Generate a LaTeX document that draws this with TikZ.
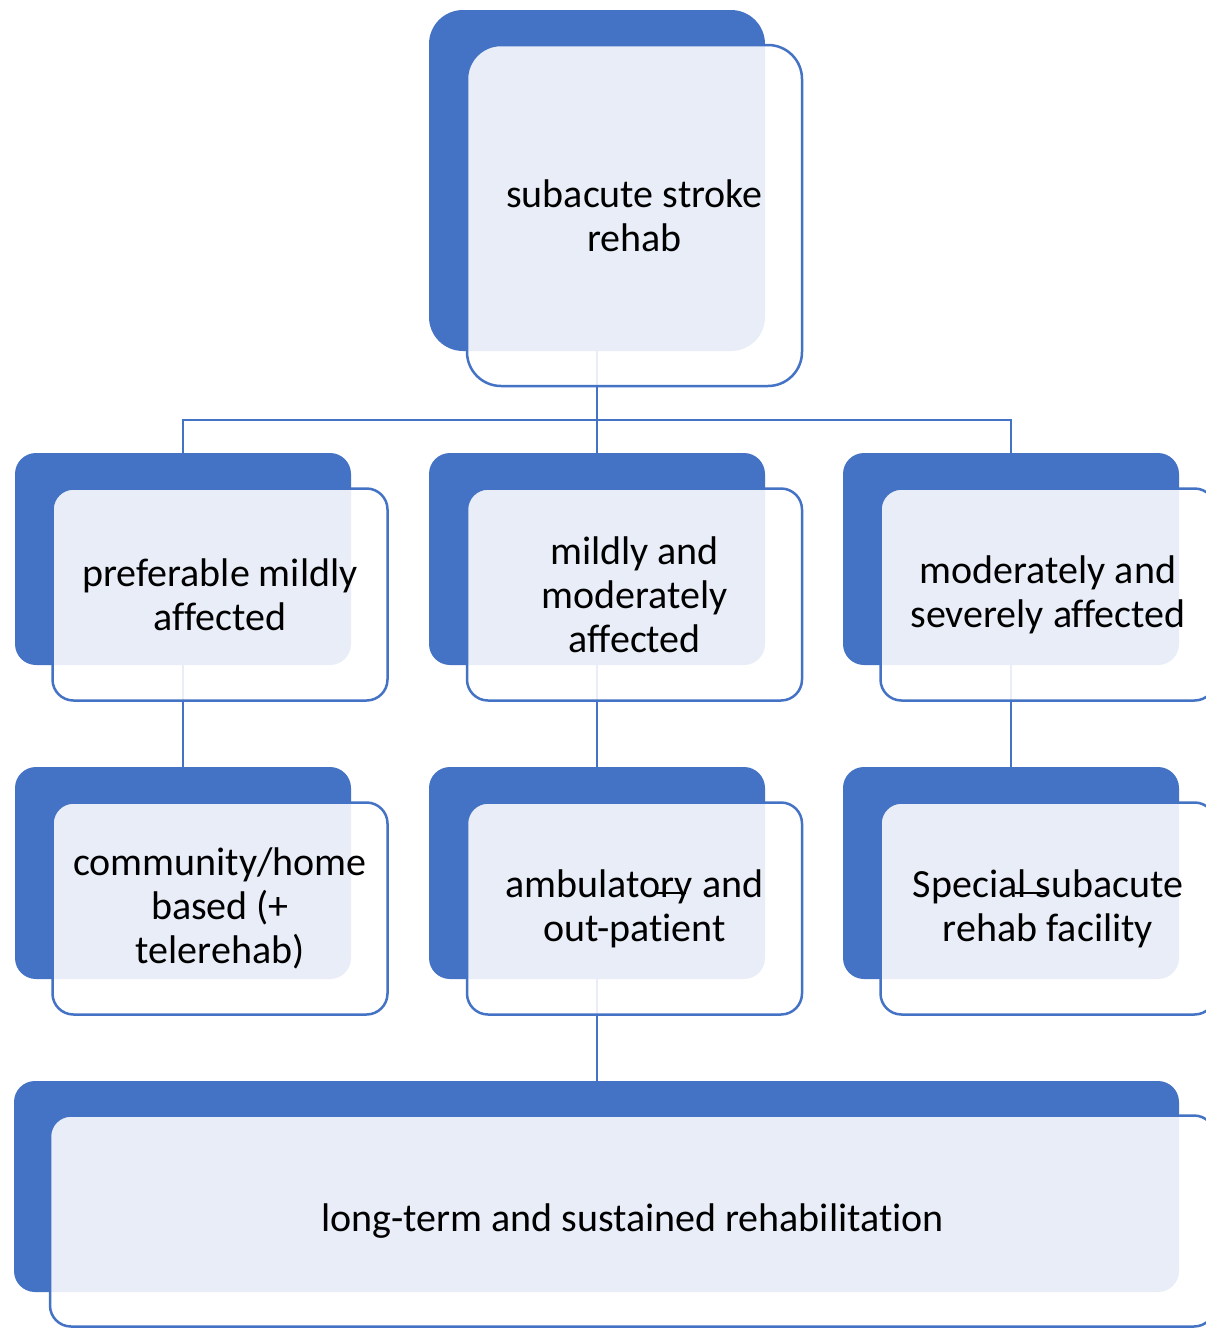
\documentclass[tikz,border=0pt]{standalone}
\usepackage{fontspec}
\setmainfont[Ligatures=NoCommon]{Carlito}
\definecolor{sablue}{HTML}{4472C4}
\begin{document}
\begin{tikzpicture}[x=1pt,y=-1pt,
  backbox/.style={rectangle, rounded corners=21pt, fill=sablue, inner sep=0pt, outer sep=0pt,
    minimum width=336pt, minimum height=212pt},
  frontbox/.style={rectangle, rounded corners=21pt, draw=sablue, line width=2.5pt, fill=white,
    fill opacity=0.88, text opacity=1, inner sep=0pt, outer sep=0pt,
    minimum width=335pt, minimum height=212pt, align=center,
    font=\fontsize{40}{44}\selectfont},
  link/.style={draw=sablue, line width=2.5pt},
  stroke/.style={draw=black, line width=2pt}]
\clip (0,0) rectangle (1206,1328);
\fill[white] (0,0) rectangle (1206,1328);
% back boxes
\node[backbox, rounded corners=34pt, minimum height=341pt] (topb) at (597,180.5) {};
\node[backbox] (l2b) at (183,559) {};
\node[backbox] (m2b) at (597,559) {};
\node[backbox] (r2b) at (1011,559) {};
\node[backbox] (l3b) at (183,873) {};
\node[backbox] (m3b) at (597,873) {};
\node[backbox] (r3b) at (1011,873) {};
\node[backbox, minimum width=1165pt, minimum height=211pt] (botb) at (596.5,1186.5) {};
% connectors
\coordinate (hub) at (597,420);
\draw[link] (topb.south) -- (hub);
\draw[link] (hub) -| (l2b.north);
\draw[link] (hub) -- (m2b.north);
\draw[link] (hub) -| (r2b.north);
\draw[link] (l2b.south) -- (l3b.north);
\draw[link] (m2b.south) -- (m3b.north);
\draw[link] (r2b.south) -- (r3b.north);
\draw[link] (m3b.south) -- (botb.north -| m3b.south);
% front boxes
\node[frontbox, rounded corners=34pt, minimum height=341pt] (topf) at (634.5,215.5) {subacute stroke\\rehab};
\node[frontbox] (l2f) at (220,594.5) {preferable mildly\\affected};
\node[frontbox] (m2f) at (634.5,594.5) {mildly and\\moderately\\affected};
\node[frontbox] (r2f) at (1048,594.5) {moderately and\\severely affected};
\node[frontbox] (l3f) at (220,908.5) {community/home\\based (+\\telerehab)};
\node[frontbox] (m3f) at (634.5,908.5) {ambulatory and\\out-patient};
\node[frontbox] (r3f) at (1048,908.5) {Special subacute\\rehab facility};
\node[frontbox, minimum width=1165pt, minimum height=211pt] (botf) at (632.5,1221) {long-term and sustained rehabilitation};
% small stray strokes printed in the text
\draw[stroke] (657,893) -- (686,893);
\draw[stroke] (1015,893) -- (1047,893);
\end{tikzpicture}
\end{document}
